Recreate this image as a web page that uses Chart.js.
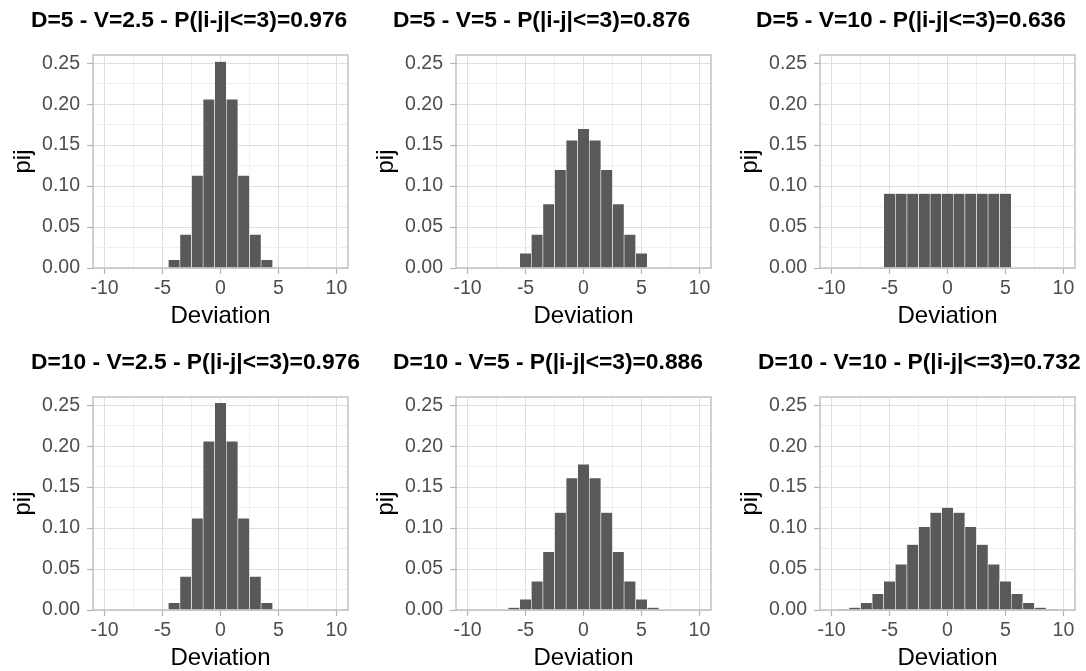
<!DOCTYPE html>
<html>
<head>
<meta charset="utf-8">
<script src="https://cdn.jsdelivr.net/npm/chart.js@4.4.1/dist/chart.umd.min.js"></script>
<style>
  html, body { margin: 0; padding: 0; background: #ffffff; width: 1086px; height: 671px; overflow: hidden; }
  .panel { position: absolute; width: 362px; height: 335px; }
  .panel canvas { display: block; }
  .ptitle { position: absolute; font: bold 22.8px "Liberation Sans", Arial, Helvetica, sans-serif; line-height: 26px; color: #000; white-space: nowrap; }
</style>
</head>
<body>
<script>
// Deviation values (i - j) and probabilities p_ij for each D / V setting
const devD5V2_5 = [-4, -3, -2, -1, 0, 1, 2, 3, 4];
const pijD5V2_5 = [0.010, 0.041, 0.113, 0.206, 0.252, 0.206, 0.113, 0.041, 0.010];

const devD5V5 = [-5, -4, -3, -2, -1, 0, 1, 2, 3, 4, 5];
const pijD5V5 = [0.018, 0.041, 0.078, 0.120, 0.156, 0.170, 0.156, 0.120, 0.078, 0.041, 0.018];

const devD5V10 = [-5, -4, -3, -2, -1, 0, 1, 2, 3, 4, 5];
const pijD5V10 = [0.0909, 0.0909, 0.0909, 0.0909, 0.0909, 0.0909, 0.0909, 0.0909, 0.0909, 0.0909, 0.0909];

const devD10V2_5 = [-4, -3, -2, -1, 0, 1, 2, 3, 4];
const pijD10V2_5 = [0.009, 0.041, 0.112, 0.206, 0.253, 0.206, 0.112, 0.041, 0.009];

const devD10V5 = [-6, -5, -4, -3, -2, -1, 0, 1, 2, 3, 4, 5, 6];
const pijD10V5 = [0.003, 0.013, 0.035, 0.071, 0.119, 0.161, 0.178, 0.161, 0.119, 0.071, 0.035, 0.013, 0.003];

const devD10V10 = [-9, -8, -7, -6, -5, -4, -3, -2, -1, 0, 1, 2, 3, 4, 5, 6, 7, 8, 9];
const pijD10V10 = [0.001, 0.003, 0.009, 0.020, 0.035, 0.056, 0.080, 0.1015, 0.119, 0.125, 0.119, 0.1015, 0.080, 0.056, 0.035, 0.020, 0.009, 0.003, 0.001];

// Panel titles
const titles = [
  "D=5 - V=2.5 - P(|i-j|<=3)=0.976",
  "D=5 - V=5 - P(|i-j|<=3)=0.876",
  "D=5 - V=10 - P(|i-j|<=3)=0.636",
  "D=10 - V=2.5 - P(|i-j|<=3)=0.976",
  "D=10 - V=5 - P(|i-j|<=3)=0.886",
  "D=10 - V=10 - P(|i-j|<=3)=0.732"
];

// Axis ticks and grid
const xMajor = [-10, -5, 0, 5, 10];
const xMinor = [-7.5, -2.5, 2.5, 7.5];
const yMajor = [0, 0.05, 0.10, 0.15, 0.20, 0.25];
const yMinor = [0.025, 0.075, 0.125, 0.175, 0.225];
const xLimits = [-11, 11];
const yLimits = [0, 0.26];

const FONT = '"Liberation Sans", Arial, Helvetica, sans-serif';

const panels = [
  { dev: devD5V2_5,  pij: pijD5V2_5,  left: 0,   top: 0,   titleLeft: 31 },
  { dev: devD5V5,    pij: pijD5V5,    left: 363, top: 0,   titleLeft: 393 },
  { dev: devD5V10,   pij: pijD5V10,   left: 727, top: 0,   titleLeft: 756 },
  { dev: devD10V2_5, pij: pijD10V2_5, left: 0,   top: 342, titleLeft: 31 },
  { dev: devD10V5,   pij: pijD10V5,   left: 363, top: 342, titleLeft: 393 },
  { dev: devD10V10,  pij: pijD10V10,  left: 727, top: 342, titleLeft: 758 }
];

const isMajorX = v => xMajor.some(m => Math.abs(m - v) < 1e-9);
const isMajorY = v => yMajor.some(m => Math.abs(m - v) < 1e-9);

// Light grey frame drawn over the plotting area
const panelBorder = {
  id: 'panelBorder',
  afterDatasetsDraw(chart) {
    const { ctx, chartArea: a } = chart;
    ctx.save();
    ctx.strokeStyle = '#b8b8b8';
    ctx.lineWidth = 1.3;
    ctx.strokeRect(a.left, a.top, a.right - a.left, a.bottom - a.top);
    ctx.restore();
  }
};

panels.forEach((p, k) => {
  const wrap = document.createElement('div');
  wrap.className = 'panel';
  wrap.style.left = p.left + 'px';
  wrap.style.top = p.top + 'px';
  const cv = document.createElement('canvas');
  cv.width = 362; cv.height = 335;
  wrap.appendChild(cv);
  document.body.appendChild(wrap);

  const t = document.createElement('div');
  t.className = 'ptitle';
  t.textContent = titles[k];
  t.style.left = p.titleLeft + 'px';
  t.style.top = (p.top + 6) + 'px';
  document.body.appendChild(t);

  new Chart(cv, {
    type: 'bar',
    data: {
      datasets: [{
        data: p.dev.map((d, i) => ({ x: d, y: p.pij[i] })),
        backgroundColor: '#595959',
        borderColor: '#ffffff',
        borderWidth: 0.6,
        borderSkipped: 'start',
        barPercentage: 1,
        categoryPercentage: 1
      }]
    },
    options: {
      responsive: false,
      animation: false,
      devicePixelRatio: 1,
      layout: { padding: { top: 55, right: 14, bottom: 0, left: 0 } },
      plugins: { legend: { display: false }, tooltip: { enabled: false }, title: { display: false } },
      scales: {
        x: {
          type: 'linear',
          min: xLimits[0], max: xLimits[1],
          offset: false,
          afterBuildTicks: ax => { ax.ticks = [...xMajor, ...xMinor].sort((a, b) => a - b).map(v => ({ value: v })); },
          afterFit: ax => { ax.height = 67; },
          ticks: {
            autoSkip: false, maxRotation: 0, minRotation: 0, padding: 3,
            color: '#4d4d4d', font: { family: FONT, size: 19.5 },
            callback: v => isMajorX(v) ? String(v) : ''
          },
          grid: {
            offset: false,
            color: c => isMajorX(c.tick.value) ? '#dedede' : '#efefef',
            lineWidth: 1,
            drawTicks: true,
            tickLength: 6,
            tickWidth: 1.2,
            tickColor: c => isMajorX(c.tick.value) ? '#b3b3b3' : 'rgba(0,0,0,0)'
          },
          border: { display: false },
          title: { display: true, text: 'Deviation', color: '#000', font: { family: FONT, size: 24 }, padding: { top: 0, bottom: 4 } }
        },
        y: {
          type: 'linear',
          min: yLimits[0], max: yLimits[1],
          afterBuildTicks: ax => { ax.ticks = [...yMajor, ...yMinor].sort((a, b) => a - b).map(v => ({ value: v })); },
          afterFit: ax => { ax.width = 93; },
          ticks: {
            autoSkip: false, padding: 7,
            color: '#4d4d4d', font: { family: FONT, size: 19.5 },
            callback: v => isMajorY(v) ? v.toFixed(2) : ''
          },
          grid: {
            color: c => isMajorY(c.tick.value) ? '#dedede' : '#efefef',
            lineWidth: 1,
            drawTicks: true,
            tickLength: 6,
            tickWidth: 1.2,
            tickColor: c => isMajorY(c.tick.value) ? '#b3b3b3' : 'rgba(0,0,0,0)'
          },
          border: { display: false },
          title: { display: true, text: 'pij', color: '#000', font: { family: FONT, size: 24 }, padding: { top: 9, bottom: 0 } }
        }
      }
    },
    plugins: [panelBorder]
  });
});
</script>
</body>
</html>
